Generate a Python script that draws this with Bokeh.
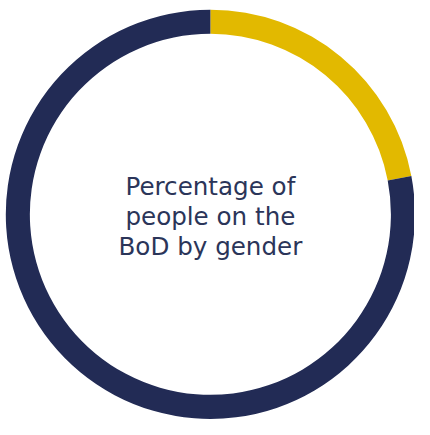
import math
from bokeh.plotting import figure
from bokeh.models import ColumnDataSource
from bokeh.core.properties import value
from bokeh.embed import file_html
from bokeh.resources import INLINE

# Data
genders = ["Women", "Men"]
shares = [22, 78]
colors = ["#e2b900", "#222b55"]
title_lines = ["Percentage of", "people on the", "BoD by gender"]

# Reference coordinate space 430x435 drawn into a figure that fits the window
RW, RH = 430, 435
W, H = 414, 419
S = W / RW
p = figure(width=W, height=H, x_range=(0, RW), y_range=(0, RH),
           output_backend="svg", toolbar_location=None, min_border=0)
p.axis.visible = False
p.grid.visible = False
p.outline_line_color = None
p.background_fill_color = "white"
p.border_fill_color = "white"

total = sum(shares)
starts, ends = [], []
acc = 0.0
for s in shares:
    a0 = math.pi / 2 - 2 * math.pi * acc / total
    acc += s
    a1 = math.pi / 2 - 2 * math.pi * acc / total
    starts.append(a0)
    ends.append(a1)

cx, cy = 218, 213
src = ColumnDataSource(dict(g=genders, v=shares, start=starts, end=ends, color=colors))
p.annular_wedge(x=cx, y=cy, inner_radius=187.5, outer_radius=212.5,
                start_angle="start", end_angle="end", direction="clock",
                fill_color="color", line_color=None, source=src)

line_mid = [241.5, 210.5, 179.5]
p.text(x=[cx] * 3, y=line_mid, text=title_lines, text_align="center",
       text_baseline="middle", text_font=value("DejaVu Sans"),
       text_font_size=f"{25.5 * S:.1f}px", text_color="#2b3559")

open("out.html", "w").write(file_html(p, INLINE))
